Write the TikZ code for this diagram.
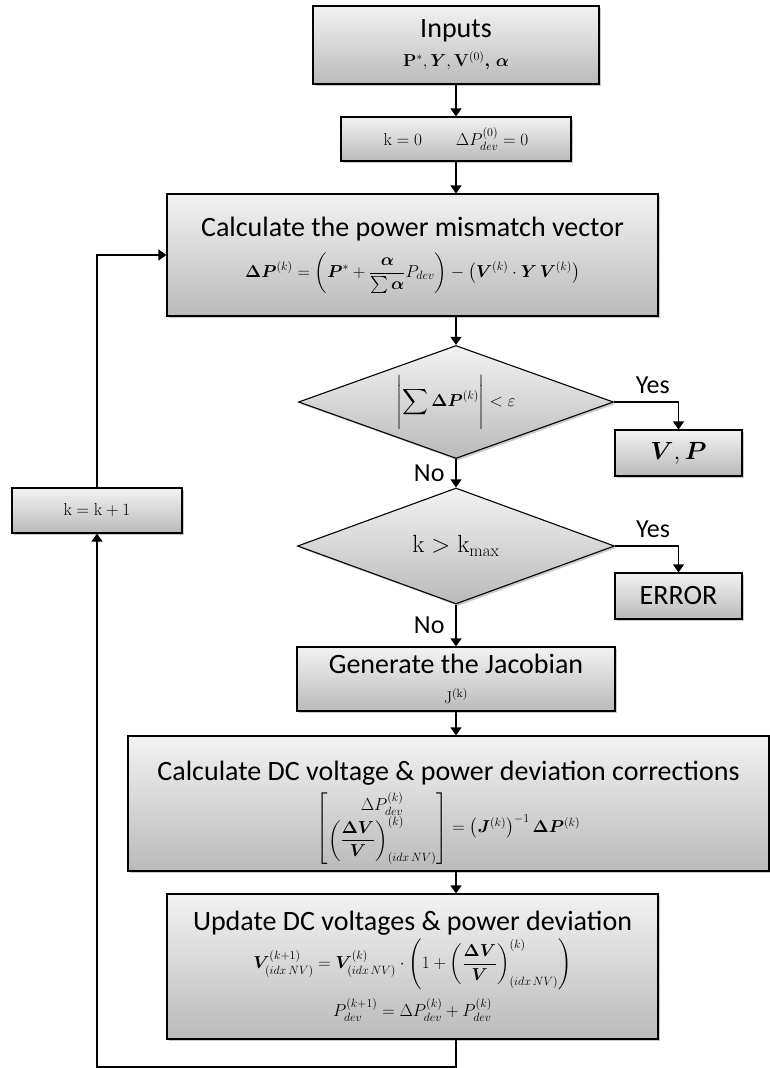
\documentclass[tikz,border=0pt]{standalone}
\usepackage{amsmath,amssymb}
\usepackage{bm}
\usepackage[no-math]{fontspec}
\setmainfont{Carlito}
\usetikzlibrary{shapes.geometric,arrows.meta,shadows}

\newcommand{\eqsize}{\fontsize{17}{20}\selectfont}
\newcommand{\dvv}{\left(\dfrac{\bm{\Delta V}}{\bm{V}}\right)}

\begin{document}
\begin{tikzpicture}[x=1pt, y=-1pt,
  box/.style={draw, line width=1.1pt, top color=black!5, bottom color=black!27,
    drop shadow={shadow xshift=2pt, shadow yshift=-2pt, opacity=0.35, fill=black!60},
    align=center, inner sep=0pt, font=\fontsize{28}{32}\selectfont},
  decision/.style={box, diamond, shape aspect=2.8},
  arrow/.style={-{Triangle[width=11pt,length=8pt]}, line width=1.1pt},
  lbl/.style={font=\fontsize{26}{30}\selectfont, inner sep=0pt}]
  \useasboundingbox (0,0) rectangle (770,1068);

  % Main column
  \node[box, minimum width=286, minimum height=78] (inputs) at (456,45)
    {Inputs\\[-3pt]{\eqsize $\mathbf{P}^{*}, \bm{Y}, \mathbf{V}^{(0)}\bm{,}\, \bm{\alpha}$}};
  \node[box, minimum width=230, minimum height=44] (init) at (456,139)
    {\eqsize $\mathrm{k}=0 \qquad \Delta P^{(0)}_{dev}=0$};
  \node[box, minimum width=491, minimum height=122] (mismatch) at (412.5,255)
    {Calculate the power mismatch vector\\[9pt]
     {\eqsize $\bm{\Delta P}^{(k)} = \left(\bm{P}^{*} + \dfrac{\bm{\alpha}}{\sum\bm{\alpha}} P_{dev}\right) - \left(\bm{V}^{(k)}\cdot\bm{Y}\,\bm{V}^{(k)}\right)$}};
  \node[decision, minimum width=315, minimum height=113] (conv) at (456,402)
    {\fontsize{18}{21}\selectfont $\Biggl|\displaystyle\sum \bm{\Delta P}^{(k)}\Biggr| < \varepsilon$};
  \node[decision, minimum width=317, minimum height=116] (iter) at (456,546)
    {\fontsize{27}{30}\selectfont $\mathrm{k} > \mathrm{k}_{\mathrm{max}}$};
  \node[box, minimum width=318, minimum height=64] (jacobian) at (456,679)
    {Generate the Jacobian\\[-2pt]{\eqsize $\mathrm{J}^{(\mathrm{k})}$}};
  \node[box, minimum width=641, minimum height=135] (corr) at (448.5,803.5)
    {\rule{0pt}{38pt}Calculate DC voltage \& power deviation corrections\\[6pt]
     {\eqsize $\begin{bmatrix} \Delta P^{(k)}_{dev}\\ \dvv^{(k)}_{(idx\,NV)}\end{bmatrix} = \left(\bm{J}^{(k)}\right)^{-1}\bm{\Delta P}^{(k)}$}};
  \node[box, minimum width=491, minimum height=145] (update) at (412.5,966.5)
    {Update DC voltages \& power deviation\\[2pt]
     {\eqsize $\bm{V}^{(k+1)}_{(idx\,NV)} = \bm{V}^{(k)}_{(idx\,NV)}\cdot\left(1+\dvv^{(k)}_{(idx\,NV)}\right)$}\\[8pt]
     {\eqsize $P^{(k+1)}_{dev} = \Delta P^{(k)}_{dev} + P^{(k)}_{dev}$}};

  % Side boxes
  \node[box, minimum width=127, minimum height=46] (result) at (678.5,453)
    {\fontsize{30}{34}\selectfont $\bm{V}, \bm{P}$};
  \node[box, minimum width=127, minimum height=46] (error) at (678.5,596) {ERROR};
  \node[box, minimum width=170, minimum height=45] (incr) at (97,510.5)
    {\fontsize{18}{21}\selectfont $\mathrm{k}=\mathrm{k}+1$};
  \coordinate (loopbot) at (97,1067);

  % Connectors
  \draw[arrow] (inputs.south) -- (init.north);
  \draw[arrow] (init.south) -- (mismatch.north -| init.south);
  \draw[arrow] (mismatch.south -| conv.north) -- (conv.north);
  \draw[arrow] (conv.south) -- (iter.north) node[lbl, midway, left=11pt] {No};
  \draw[arrow] (iter.south) -- (jacobian.north) node[lbl, midway, left=11pt] {No};
  \draw[arrow] (jacobian.south) -- (corr.north -| jacobian.south);
  \draw[arrow] (corr.south -| jacobian.south) -- (update.north -| jacobian.south);
  \draw[arrow] (conv.east) -| (result.north) node[lbl, pos=0.3, above=8pt] {Yes};
  \draw[arrow] (iter.east) -| (error.north) node[lbl, pos=0.3, above=8pt] {Yes};

  % Loop back
  \draw[arrow] (update.south -| jacobian.south) |- (loopbot) -- (incr.south);
  \draw[arrow] (incr.north) |- (mismatch.west);
\end{tikzpicture}
\end{document}
